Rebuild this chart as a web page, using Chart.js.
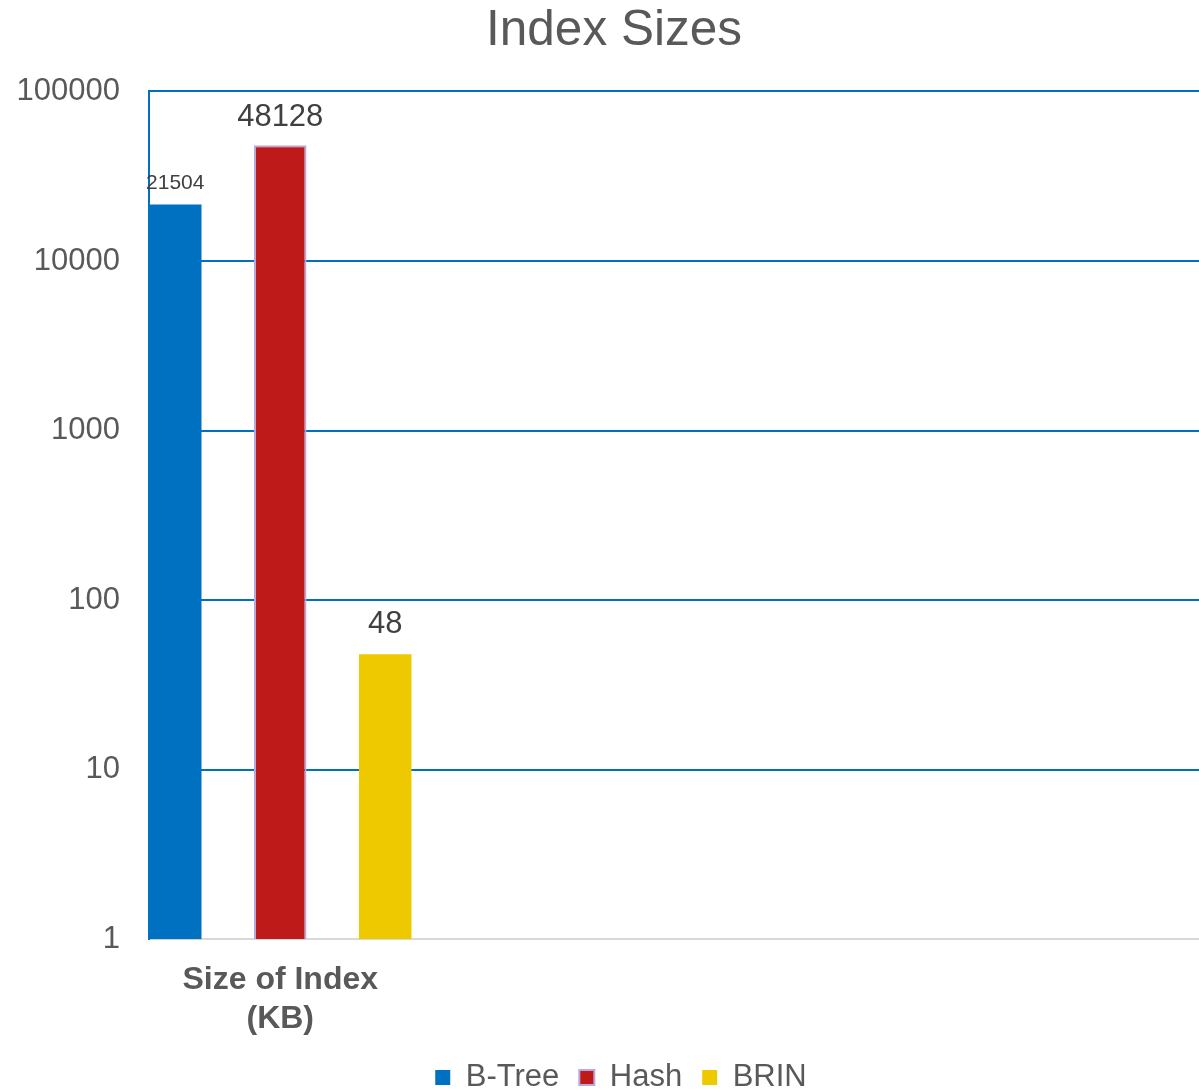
<!DOCTYPE html>
<html>
<head>
<meta charset="utf-8">
<title>Index Sizes</title>
<script src="https://cdn.jsdelivr.net/npm/chart.js@4.4.0/dist/chart.umd.min.js"></script>
<style>
  html, body { margin: 0; padding: 0; background: #fff; overflow: hidden; }
  #wrap { position: relative; width: 1199px; height: 1103px; }
</style>
</head>
<body>
<div id="wrap"><canvas id="chart"></canvas></div>
<script>
// Data
const categories = [['Size of Index', '(KB)'], '', '', ''];
const seriesNames = ['B-Tree', 'Hash', 'BRIN'];
const btreeValues = [21504];
const hashValues = [48128];
const brinValues = [48];
const yTicks = [1, 10, 100, 1000, 10000, 100000];

const FONT = "'Liberation Sans', Arial, sans-serif";
const TEXT = '#595959';

// value labels above the bars
const valueLabels = {
  id: 'valueLabels',
  afterDatasetsDraw(chart) {
    const ctx = chart.ctx;
    chart.data.datasets.forEach((ds, i) => {
      const meta = chart.getDatasetMeta(i);
      meta.data.forEach((bar, j) => {
        const v = ds.data[j];
        if (v == null) return;
        ctx.save();
        ctx.font = ds.labelSize + 'px ' + FONT;
        ctx.fillStyle = '#404040';
        ctx.textAlign = 'center';
        ctx.textBaseline = 'alphabetic';
        ctx.fillText(String(v), bar.x, bar.y - ds.labelGap);
        ctx.restore();
      });
    });
  }
};

// title and legend sit a bit right of the canvas centre in the original
const nudgeBlocks = {
  id: 'nudgeBlocks',
  afterLayout(chart) {
    if (chart.titleBlock) { chart.titleBlock.left += 6; chart.titleBlock.right += 6; }
    if (chart.legend) { chart.legend.left += 13; chart.legend.right += 13; }
  }
};

const ctx = document.getElementById('chart').getContext('2d');
new Chart(ctx, {
  type: 'bar',
  data: {
    labels: categories,
    datasets: [
      { label: seriesNames[0], data: btreeValues, backgroundColor: '#0070C0', borderWidth: 0, labelSize: 21, labelGap: 16 },
      { label: seriesNames[1], data: hashValues, backgroundColor: '#BE1A1A', borderColor: '#B8A8DC', borderWidth: 2, labelSize: 31, labelGap: 19 },
      { label: seriesNames[2], data: brinValues, backgroundColor: '#EEC900', borderWidth: 0, labelSize: 31, labelGap: 21 }
    ]
  },
  options: {
    responsive: true,
    maintainAspectRatio: false,
    animation: false,
    categoryPercentage: 1.2,
    barPercentage: 0.5,
    layout: { padding: { left: 17, right: 0, top: 0, bottom: 0 } },
    plugins: {
      title: {
        display: true,
        text: 'Index Sizes',
        color: TEXT,
        font: { family: FONT, size: 49.5, weight: 'normal' },
        padding: { top: 2, bottom: 30 }
      },
      legend: {
        position: 'bottom',
        labels: {
          boxWidth: 15,
          boxHeight: 15,
          padding: 20,
          color: TEXT,
          font: { family: FONT, size: 31 }
        }
      },
      tooltip: { enabled: false }
    },
    scales: {
      x: {
        grid: { display: false, drawTicks: false },
        border: { display: true, color: '#D9D9D9', width: 2 },
        afterFit(scale) {
          scale.height -= 18;
        },
        ticks: {
          autoSkip: false,
          maxRotation: 0,
          padding: 22,
          color: TEXT,
          font: { family: FONT, size: 32, weight: 'bold' }
        }
      },
      y: {
        type: 'logarithmic',
        min: 1,
        max: 100000,
        afterBuildTicks(scale) {
          scale.ticks = yTicks.map(v => ({ value: v }));
        },
        afterFit(scale) {
          scale.width = 132;
        },
        grid: {
          drawTicks: false,
          lineWidth: 2,
          color: c => (c.tick && c.tick.value === 1 ? '#D9D9D9' : '#0070C0')
        },
        border: { display: true, color: '#0070C0', width: 2 },
        ticks: {
          padding: 29,
          color: TEXT,
          font: { family: FONT, size: 31 },
          callback: v => String(v)
        }
      }
    }
  },
  plugins: [valueLabels, nudgeBlocks]
});
</script>
</body>
</html>
